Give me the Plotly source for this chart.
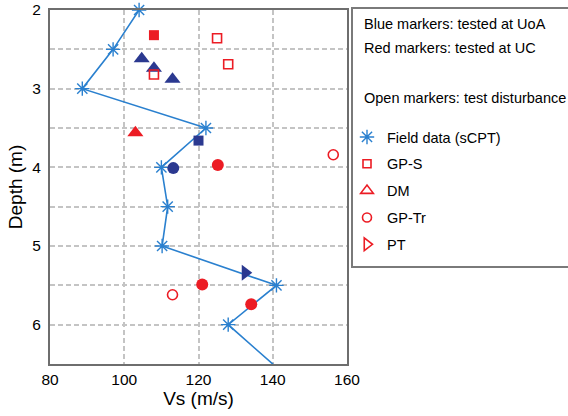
import plotly.graph_objects as go

# ---- data ----
field_depth = [2.0, 2.5, 3.0, 3.5, 4.0, 4.5, 5.0, 5.5, 6.0, 7.0]
field_vs = [104.0, 97.0, 88.7, 122.0, 110.0, 111.7, 110.2, 141.0, 128.0, 152.0]

gps_uoa_vs = [120.0]
gps_uoa_depth = [3.66]
gps_uc_vs = [108.0]
gps_uc_depth = [2.32]
gps_uc_open_vs = [125.0, 128.0, 108.0]
gps_uc_open_depth = [2.36, 2.69, 2.82]

dm_uoa_vs = [104.7, 108.0, 113.0]
dm_uoa_depth = [2.62, 2.74, 2.88]
dm_uc_vs = [103.0]
dm_uc_depth = [3.56]

gptr_uoa_vs = [113.2]
gptr_uoa_depth = [4.01]
gptr_uc_vs = [125.2, 121.0, 134.2]
gptr_uc_depth = [3.97, 5.49, 5.74]
gptr_uc_open_vs = [156.3, 113.0]
gptr_uc_open_depth = [3.84, 5.62]

pt_uoa_vs = [132.6]
pt_uoa_depth = [5.34]

x_ticks = [80, 100, 120, 140, 160]
y_ticks = [2, 3, 4, 5, 6]
y_range = [6.5, 2.0]

header_lines = ["Blue markers: tested at UoA", "Red markers: tested at UC",
                "Open markers: test disturbance"]
legend_names = ["Field data (sCPT)", "GP-S", "DM", "GP-Tr", "PT"]

BLUE = "#2b3990"
RED = "#ec1c24"
LINEBLUE = "#2a80cf"
FONT = "Arial, Liberation Sans, sans-serif"

fig = go.Figure()

# field line (clipped)
fig.add_trace(go.Scatter(x=field_vs, y=field_depth, mode="lines",
                         line=dict(color=LINEBLUE, width=1.6),
                         showlegend=False, hoverinfo="skip"))
# field markers inside the visible depth range
vis = [(v, d) for v, d in zip(field_vs, field_depth) if d <= max(y_range)]
fig.add_trace(go.Scatter(x=[v for v, _ in vis], y=[d for _, d in vis], mode="markers",
                         marker=dict(symbol="asterisk-open", size=12, color=LINEBLUE,
                                     line=dict(color=LINEBLUE, width=1.4)),
                         cliponaxis=False, showlegend=False))


def pts(xs, ys, symbol, color, size, open_=False):
    if open_:
        m = dict(symbol=symbol + "-open", size=size, color=color,
                 line=dict(color=color, width=1.6))
    else:
        m = dict(symbol=symbol, size=size, color=color, line=dict(width=0))
    fig.add_trace(go.Scatter(x=xs, y=ys, mode="markers", marker=m,
                             showlegend=False, cliponaxis=False))


pts(dm_uoa_vs, dm_uoa_depth, "triangle-up", BLUE, 14)
pts(dm_uc_vs, dm_uc_depth, "triangle-up", RED, 14)
pts(gps_uoa_vs, gps_uoa_depth, "square", BLUE, 10)
pts(gps_uc_vs, gps_uc_depth, "square", RED, 10)
pts(gptr_uoa_vs, gptr_uoa_depth, "circle", BLUE, 12)
pts(gptr_uc_vs, gptr_uc_depth, "circle", RED, 12)
pts(pt_uoa_vs, pt_uoa_depth, "triangle-right", BLUE, 14)
pts(gps_uc_open_vs, gps_uc_open_depth, "square", RED, 9, open_=True)
pts(gptr_uc_open_vs, gptr_uc_open_depth, "circle", RED, 10, open_=True)

# legend entries
leg_styles = [
    dict(symbol="asterisk-open", size=12, color=LINEBLUE, line=dict(color=LINEBLUE, width=1.4)),
    dict(symbol="square-open", size=8, color=RED, line=dict(color=RED, width=1.6)),
    dict(symbol="triangle-up-open", size=11, color=RED, line=dict(color=RED, width=1.6)),
    dict(symbol="circle-open", size=9, color=RED, line=dict(color=RED, width=1.6)),
    dict(symbol="triangle-right-open", size=11, color=RED, line=dict(color=RED, width=1.6)),
]
for i, (name, st) in enumerate(zip(legend_names, leg_styles)):
    fig.add_trace(go.Scatter(x=[None], y=[None], mode="markers", marker=st,
                             name=name, legendgroup=f"g{i}", showlegend=True))

# geometry in screen pixels (page margin is removed below)
W, H = 568, 416
PL, PR, PT_, PB = 50, 347, 10, 364          # plot frame
L, R, T, B = PL, W - PR, PT_, H - PB
pw, ph = W - L - R, H - T - B


def px2x(px):
    return (px - L) / pw


def py2y(py):
    return (H - B - py) / ph


# legend box
fig.add_shape(type="rect", xref="paper", yref="paper",
              x0=px2x(352), x1=px2x(590), y0=py2y(267), y1=py2y(8),
              line=dict(color="#7a7a7a", width=2), fillcolor="white", layer="below")

for txt, py in zip(header_lines, [24, 48, 98]):
    fig.add_annotation(text=txt, xref="paper", yref="paper", x=px2x(362), y=py2y(py),
                       xanchor="left", yanchor="middle", showarrow=False,
                       font=dict(family=FONT, size=14.5, color="black"))

fig.update_layout(
    width=W, height=H,
    margin=dict(l=L, r=R, t=T, b=B, pad=0, autoexpand=False),
    paper_bgcolor="white", plot_bgcolor="white",
    font=dict(family=FONT, color="black"),
    showlegend=True,
    legend=dict(x=px2x(347), y=py2y(121), xanchor="left", yanchor="top",
                bgcolor="rgba(0,0,0,0)", borderwidth=0,
                font=dict(family=FONT, size=14.5, color="black"),
                tracegroupgap=5, traceorder="grouped", itemwidth=30),
    xaxis=dict(range=[80, 160], tickvals=x_ticks, showgrid=True, automargin=False,
               gridcolor="#c4c4c4", griddash="5px,3px", gridwidth=1.5,
               showline=True, mirror=True, linecolor="#6e6e6e", linewidth=2,
               ticks="", zeroline=False, tickfont=dict(size=15.5),
               ticklabelstandoff=0,
               title=dict(text="Vs (m/s)", font=dict(size=19), standoff=5)),
    yaxis=dict(range=y_range, tickvals=y_ticks, showgrid=True, automargin=False,
               gridcolor="#c4c4c4", griddash="5px,3px", gridwidth=1.5,
               minor=dict(dtick=0.5, tick0=2, showgrid=True, gridcolor="#c4c4c4",
                          griddash="5px,3px", gridwidth=1.5),
               showline=True, mirror=True, linecolor="#6e6e6e", linewidth=2,
               ticks="", zeroline=False, tickfont=dict(size=15.5),
               ticklabelstandoff=4,
               title=dict(text="Depth (m)", font=dict(size=19), standoff=5)),
)

fig.write_html("out.html",
               config={"displayModeBar": False},
               post_script="document.body.style.margin='0';"
                           "document.body.style.overflow='hidden';")
